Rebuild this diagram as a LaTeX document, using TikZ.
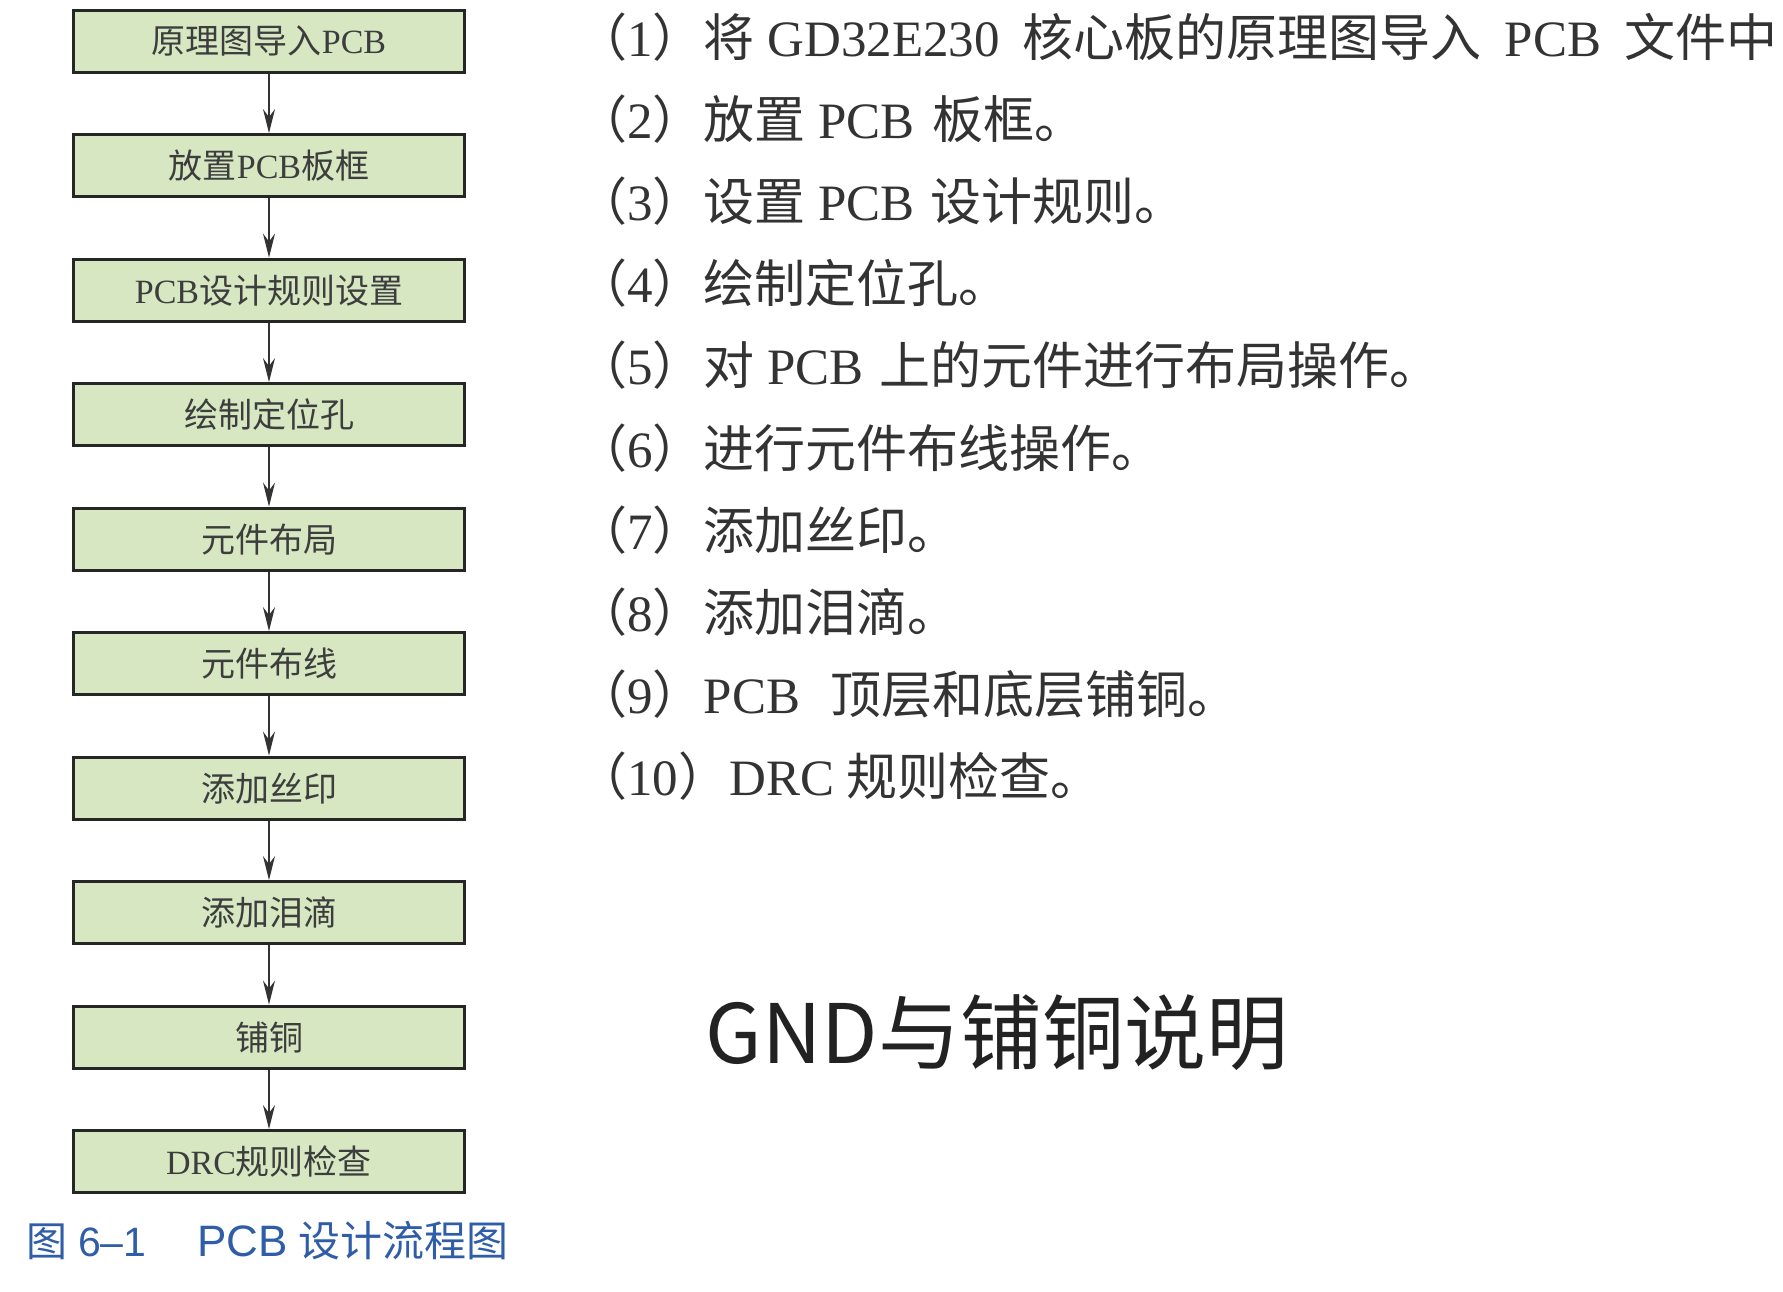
\documentclass[tikz,border=0pt]{standalone}
\usepackage{fontspec}
\setmainfont{Liberation Serif}
\newfontfamily\cjk{Noto Sans CJK SC}
\newfontfamily\capsans{Liberation Sans}
\usetikzlibrary{arrows.meta}
\definecolor{boxfill}{HTML}{D6E7C2}
\definecolor{boxtext}{HTML}{3D3D3D}
\definecolor{capblue}{HTML}{2F5DA8}
\definecolor{listtext}{HTML}{333333}
\definecolor{titletext}{HTML}{222222}
\newcommand{\zh}[1]{{\cjk #1}}
\newcommand{\widegap}{\hspace{23pt}}
\begin{document}
\begin{tikzpicture}[x=1pt,y=-1pt,
  flowbox/.style={draw=black!85, line width=3.3pt, fill=boxfill, minimum width=391pt, minimum height=62pt, inner sep=0pt, text=boxtext, font=\fontsize{34}{40}\selectfont},
  flowarrow/.style={draw=black!80, line width=2pt, -{Stealth[length=24pt,width=12pt,inset=8pt]}},
  listline/.style={anchor=base west, inner sep=0pt, text=listtext, font=\fontsize{51}{60}\selectfont},
  capline/.style={anchor=base west, inner sep=0pt, text=capblue, font=\fontsize{41}{48}\selectfont},
]
\useasboundingbox (0,0) rectangle (1783,1291);
% flow boxes
\node[flowbox] (b1) at (269,41.2) {\zh{原理图导入}PCB};
\node[flowbox] (b2) at (269,165.7) {\zh{放置}PCB\zh{板框}};
\node[flowbox] (b3) at (269,290.2) {PCB\zh{设计规则设置}};
\node[flowbox] (b4) at (269,414.7) {\zh{绘制定位孔}};
\node[flowbox] (b5) at (269,539.2) {\zh{元件布局}};
\node[flowbox] (b6) at (269,663.7) {\zh{元件布线}};
\node[flowbox] (b7) at (269,788.2) {\zh{添加丝印}};
\node[flowbox] (b8) at (269,912.7) {\zh{添加泪滴}};
\node[flowbox] (b9) at (269,1037.2) {\zh{铺铜}};
\node[flowbox] (b10) at (269,1161.7) {DRC\zh{规则检查}};
\foreach \a/\b in {b1/b2,b2/b3,b3/b4,b4/b5,b5/b6,b6/b7,b7/b8,b8/b9,b9/b10}
  \draw[flowarrow] (\a.south) -- (\b.north);
% caption
\node[capline] (c1) at (26,1256) {\zh{图}};
\node[capline] (c2) at (78,1256) {\capsans 6–1};
\node[capline, font=\fontsize{44}{48}\selectfont] (c3) at (197,1256) {\capsans PCB};
\node[capline, font=\fontsize{42}{48}\selectfont] (c4) at (298,1256) {\zh{设计流程图}};
% list
\node[listline] (l1) at (576,56.0) {\zh{（}1\zh{）将} GD32E230\widegap\zh{核心板的原理图导入}\widegap PCB\widegap\zh{文件中}};
\node[listline] (l2) at (576,138.2) {\zh{（}2\zh{）放置} PCB\hspace{18pt}\zh{板框。}};
\node[listline] (l3) at (576,220.4) {\zh{（}3\zh{）设置} PCB\hspace{16pt}\zh{设计规则。}};
\node[listline] (l4) at (576,302.6) {\zh{（}4\zh{）绘制定位孔。}};
\node[listline] (l5) at (576,384.8) {\zh{（}5\zh{）对} PCB\hspace{16pt}\zh{上的元件进行布局操作。}};
\node[listline] (l6) at (576,467.0) {\zh{（}6\zh{）进行元件布线操作。}};
\node[listline] (l7) at (576,549.2) {\zh{（}7\zh{）添加丝印。}};
\node[listline] (l8) at (576,631.4) {\zh{（}8\zh{）添加泪滴。}};
\node[listline] (l9) at (576,713.6) {\zh{（}9\zh{）}PCB\hspace{30pt}\zh{顶层和底层铺铜。}};
\node[listline] (l10) at (576,795.8) {\zh{（}10\zh{）}DRC \zh{规则检查。}};
% title
\node[inner sep=0pt, text=titletext, font=\cjk\fontsize{82}{90}\selectfont] (title) at (997,1033) {GND与铺铜说明};
\end{tikzpicture}
\end{document}
